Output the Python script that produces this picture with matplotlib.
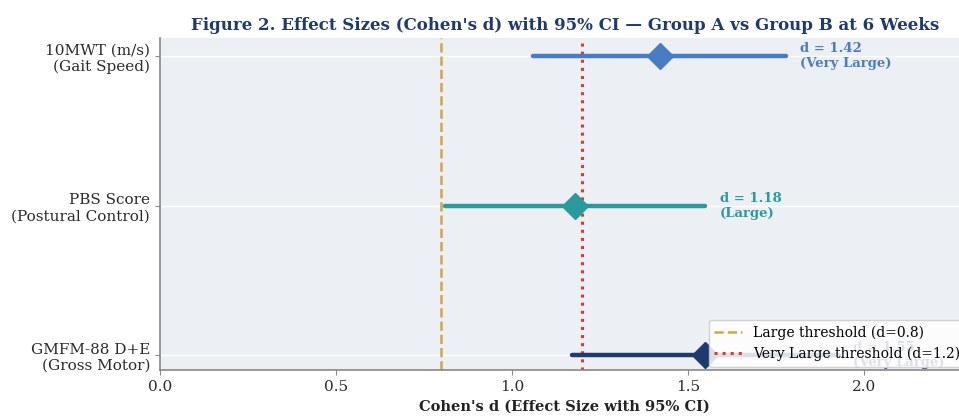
import matplotlib
matplotlib.use("Agg")
import matplotlib.pyplot as plt

# outcome measures, bottom to top
outcomes = ["GMFM-88 D+E\n(Gross Motor)", "PBS Score\n(Postural Control)", "10MWT (m/s)\n(Gait Speed)"]
d_values = [1.55, 1.18, 1.42]
ci_low = [1.17, 0.81, 1.06]
ci_high = [1.93, 1.55, 1.78]
magnitude = ["Very Large", "Large", "Very Large"]
colors = ["#1f3a6e", "#2a9a9c", "#4a7cc4"]

plt.rcParams['font.family'] = 'DejaVu Serif'

fig = plt.figure(figsize=(9.59, 4.16), dpi=100)
ax = fig.add_axes([0.1668, 0.1106, 0.844, 0.798])
ax.set_facecolor("#eceff4")

for i in range(len(outcomes)):
    ax.plot([ci_low[i], ci_high[i]], [i, i], color=colors[i], lw=3.2,
            solid_capstyle="round", zorder=3)
    ax.plot(d_values[i], i, marker="D", color=colors[i], markersize=13, zorder=4)
    ax.text(ci_high[i] + 0.04, i, f"d = {d_values[i]:.2f}\n({magnitude[i]})",
            color=colors[i], fontsize=9.5, fontweight="bold", va="center", ha="left", zorder=2)

ax.axvline(0.8, color="#cfa842", ls="--", lw=1.8, label="Large threshold (d=0.8)", zorder=2)
ax.axvline(1.2, color="#d43f33", ls=":", lw=2.2, label="Very Large threshold (d=1.2)", zorder=2)

ax.set_yticks(range(len(outcomes)))
ax.set_yticklabels(outcomes, fontsize=11, color="#2b2b2b")
ax.set_xlim(0, 2.3)
ax.set_ylim(-0.1, 2.12)
ax.set_xticks([0, 0.5, 1.0, 1.5, 2.0])
ax.tick_params(axis="x", labelsize=11, colors="#2b2b2b")
ax.tick_params(axis="both", color="#888888")
ax.grid(axis="y", color="white", lw=1)
ax.set_axisbelow(True)
for s in ["top", "right"]:
    ax.spines[s].set_visible(False)
for s in ["left", "bottom"]:
    ax.spines[s].set_color("#888888")
    ax.spines[s].set_linewidth(1.2)

ax.set_xlabel("Cohen's d (Effect Size with 95% CI)", fontsize=10.5, fontweight="bold", color="#222222")
ax.set_title("Figure 2. Effect Sizes (Cohen's d) with 95% CI \u2014 Group A vs Group B at 6 Weeks",
             fontsize=12, fontweight="bold", color="#1f3a6e", pad=6)
leg = ax.legend(loc="lower right", fontsize=10, framealpha=0.85, borderaxespad=0.25)
leg.set_zorder(5)

fig.savefig("out.png", dpi=100)
